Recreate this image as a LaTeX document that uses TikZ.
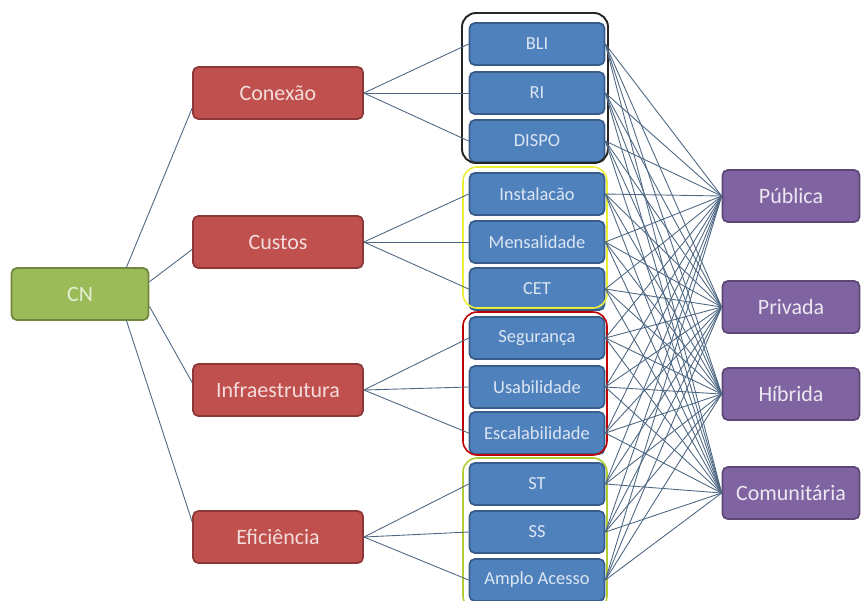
\documentclass[tikz,border=0pt]{standalone}
\usepackage{fontspec}
\setmainfont{Carlito}
\definecolor{redfill}{HTML}{C0504D}
\definecolor{redline}{HTML}{8C3836}
\definecolor{bluefill}{HTML}{4F81BD}
\definecolor{blueline}{HTML}{385D8A}
\definecolor{greenfill}{HTML}{9BBB59}
\definecolor{greenline}{HTML}{71893F}
\definecolor{purplefill}{HTML}{8064A2}
\definecolor{purpleline}{HTML}{5C4776}
\definecolor{linkcol}{HTML}{4E6782}

\begin{document}
\begin{tikzpicture}[x=0.02cm,y=-0.02cm,
  box/.style={draw,rounded corners=3pt,line width=1pt,inner sep=0pt,minimum width=2.74cm,minimum height=1.04cm,font=\fontsize{12.5}{14}\selectfont},
  root/.style={box,fill=greenfill,draw=greenline,text=white!75!greenfill},
  crit/.style={box,fill=redfill,draw=redline,text=white!80!redfill,minimum width=3.4cm},
  sub/.style={box,fill=bluefill,draw=blueline,text=white!80!bluefill,minimum width=2.7cm,minimum height=0.84cm,font=\fontsize{10.5}{12}\selectfont},
  kind/.style={box,fill=purplefill,draw=purpleline,text=white!85!purplefill},
  group/.style={rounded corners=8pt,line width=0.9pt},
  link/.style={draw=linkcol,line width=0.5pt}]
\useasboundingbox (0,0) rectangle (861,600);

\node[root] (CN) at (80,294) {CN};
\node[crit] (conexao) at (278,93) {Conexão}; \node[crit] (custos) at (278,242) {Custos};
\node[crit] (infra) at (278,390) {Infraestrutura}; \node[crit] (eficiencia) at (278,537) {Eficiência};

\foreach \n/\y/\t in {bli/44/BLI, ri/93/RI, dispo/141/DISPO, instalacao/194/Instalacão, mensalidade/242/Mensalidade, cet/289/CET,
  seguranca/338/Segurança, usabilidade/387/Usabilidade, escalabilidade/433/Escalabilidade, st/484/ST, ss/532/SS, amplo/580/Amplo Acesso}
  \node[sub] (\n) at (537,\y) {\t};

\node[kind] (publica) at (791,196) {Pública}; \node[kind] (privada) at (791,307) {Privada};
\node[kind] (hibrida) at (791,394) {Híbrida}; \node[kind] (comunitaria) at (791,493) {Comunitária};

\draw[group,draw=black!85,line width=1.1pt] (462,13) rectangle (608,163);
\draw[group,draw=yellow!60!lime!80!white] (463,167) rectangle (607,308);
\draw[group,draw=red!75!black] (463,312) rectangle (607,455);
\draw[group,draw=lime!50!olive!80!white] (463,458) rectangle (607,610);

\foreach \r/\a/\b in {conexao/30/190, custos/10/185, infra/-10/175, eficiencia/-30/170}
  \draw[link] (CN.\a) -- (\r.\b);
\foreach \r/\l in {conexao/{bli,ri,dispo}, custos/{instalacao,mensalidade,cet}, infra/{seguranca,usabilidade,escalabilidade}, eficiencia/{st,ss,amplo}}
  \foreach \s in \l \draw[link] (\r.east) -- (\s.west);
\foreach \s in {bli,ri,dispo,instalacao,mensalidade,cet,seguranca,usabilidade,escalabilidade,st,ss,amplo}
  \foreach \p in {publica,privada,hibrida,comunitaria} \draw[link] (\s.east) -- (\p.west);
\end{tikzpicture}
\end{document}
